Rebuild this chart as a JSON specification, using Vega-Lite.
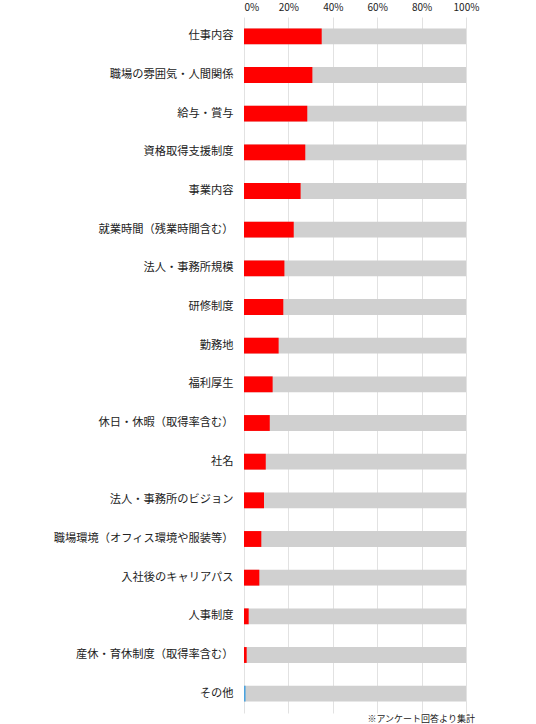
{
  "$schema": "https://vega.github.io/schema/vega-lite/v6.json",
  "autosize": {"type": "none"},
  "width": 222,
  "height": 696,
  "padding": {"left": 244, "top": 17, "right": 70, "bottom": 11},
  "background": "white",
  "config": {"view": {"stroke": null}, "font": "Noto Sans CJK JP"},
  "title": {"text": "※アンケート回答より集計", "orient": "bottom", "anchor": "end", "fontSize": 9, "fontWeight": "normal", "color": "#222", "offset": 2, "dx": -4, "font": "Noto Sans CJK JP"},
  "data": {"values": [
    {"item": "仕事内容", "value": 35.0},
    {"item": "職場の雰囲気・人間関係", "value": 30.8},
    {"item": "給与・賞与", "value": 28.5},
    {"item": "資格取得支援制度", "value": 27.6},
    {"item": "事業内容", "value": 25.5},
    {"item": "就業時間（残業時間含む）", "value": 22.4},
    {"item": "法人・事務所規模", "value": 18.2},
    {"item": "研修制度", "value": 17.7},
    {"item": "勤務地", "value": 15.6},
    {"item": "福利厚生", "value": 12.9},
    {"item": "休日・休暇（取得率含む）", "value": 11.6},
    {"item": "社名", "value": 9.8},
    {"item": "法人・事務所のビジョン", "value": 9.0},
    {"item": "職場環境（オフィス環境や服装等）", "value": 7.8},
    {"item": "入社後のキャリアパス", "value": 6.9},
    {"item": "人事制度", "value": 2.1},
    {"item": "産休・育休制度（取得率含む）", "value": 1.2},
    {"item": "その他", "value": 0.7}
  ]},
  "encoding": {
    "y": {"field": "item", "type": "nominal", "sort": null,
      "scale": {"paddingInner": 0.59, "paddingOuter": 0.295},
      "axis": {"title": null, "ticks": false, "domain": false, "labelFontSize": 11.25, "labelColor": "#222", "labelPadding": 11, "labelFont": "Noto Sans CJK JP", "labelLimit": 240}}
  },
  "layer": [
    {
      "mark": {"type": "bar", "color": "#d0d0d0"},
      "encoding": {
        "x": {"datum": 100, "type": "quantitative",
          "scale": {"domain": [0, 100], "nice": false},
          "axis": {"orient": "top", "title": null, "values": [0, 20, 40, 60, 80, 100], "labelExpr": "datum.value + '%'", "ticks": false, "domain": false, "grid": true, "gridColor": "#e2e2e2", "gridWidth": 1, "labelFontSize": 10, "labelColor": "#222", "labelPadding": 5, "labelFont": "Noto Sans CJK JP", "labelAlign": {"expr": "datum.value == 0 ? 'left' : 'center'"}}}
      }
    },
    {
      "mark": {"type": "bar"},
      "encoding": {
        "x": {"field": "value", "type": "quantitative"},
        "color": {"condition": {"test": "datum.item == 'その他'", "value": "#4aa3df"}, "value": "#ff0000"}
      }
    }
  ]
}
